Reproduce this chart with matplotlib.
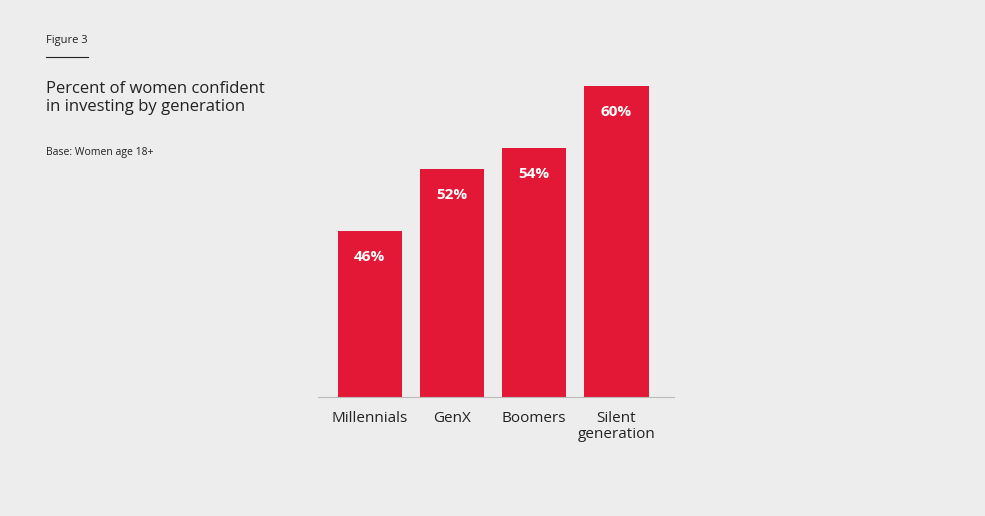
import matplotlib.pyplot as plt
from matplotlib.lines import Line2D

categories = ['Millennials', 'GenX', 'Boomers', 'Silent\ngeneration']
values = [46, 52, 54, 60]

bg = '#ededed'
red = '#e31837'

fig = plt.figure(figsize=(9.85, 5.16), dpi=100, facecolor=bg)
ax = fig.add_axes([318 / 985, 1 - 397 / 516, (674 - 318) / 985, 332 / 516])
ax.set_facecolor(bg)

x = range(len(categories))
ax.bar(x, values, width=0.78, color=red, bottom=0)
ax.set_ylim(30, 62)
ax.set_xlim(-0.63, 3.7)

# value labels inside the bars
for xi, v in zip(x, values):
    ax.text(xi, v - 2.5, f'{v}%', ha='center', va='center', color='white',
            fontsize=11, fontweight='bold', family='Open Sans')

ax.set_xticks(list(x))
ax.set_xticklabels(categories, fontsize=11, color='#222222', family='Open Sans',
                   linespacing=1.1, va='top')
ax.tick_params(axis='x', length=0, pad=10)
ax.set_yticks([])
for s in ['top', 'right', 'left']:
    ax.spines[s].set_visible(False)
ax.spines['bottom'].set_color('#bbbbbb')
ax.spines['bottom'].set_linewidth(0.8)

# header text
fig.text(46 / 985, 1 - 40 / 516, 'Figure 3', fontsize=8, color='#222222',
         va='center', family='Open Sans')
fig.add_artist(Line2D([46 / 985, 88 / 985], [1 - 57 / 516] * 2,
                      color='#222222', linewidth=0.8))
fig.text(46 / 985, 1 - 98 / 516, 'Percent of women confident\nin investing by generation',
         fontsize=12, color='#222222', va='center', family='Open Sans', linespacing=1.2)
fig.text(46 / 985, 1 - 152 / 516, 'Base: Women age 18+', fontsize=7.5,
         color='#222222', va='center', family='Open Sans')

fig.savefig('out.png', dpi=100, facecolor=bg)
